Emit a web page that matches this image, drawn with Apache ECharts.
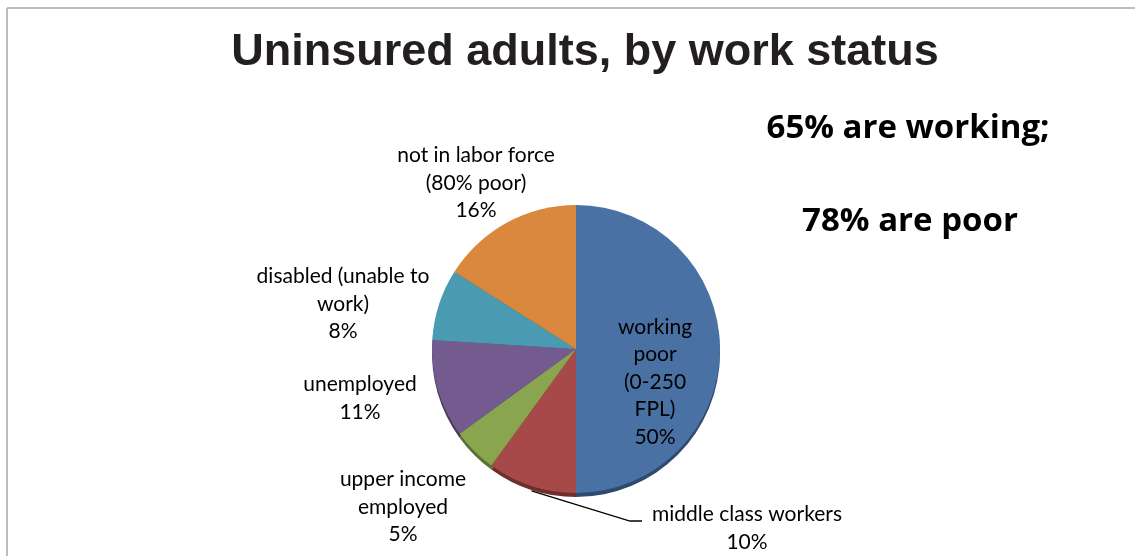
<!DOCTYPE html>
<html>
<head>
<meta charset="utf-8">
<title>Uninsured adults, by work status</title>
<script src="https://cdn.jsdelivr.net/npm/echarts@6/dist/echarts.min.js"></script>
<style>
  html, body { margin: 0; padding: 0; background: #ffffff; }
  #chart { width: 1135px; height: 556px; }
</style>
</head>
<body>
<div id="chart"></div>
<script>
// Slice labels (as printed on the chart) and their shares, clockwise from 12 o'clock
const categories = [
  'working\npoor\n(0-250\nFPL)',
  'middle class workers',
  'upper income\nemployed',
  'unemployed',
  'disabled (unable to\nwork)',
  'not in labor force\n(80% poor)'
];
const shares = [50, 10, 5, 11, 8, 16];

// Headline notes
const chartTitle = 'Uninsured adults, by work status';
const notes = ['65% are working;', '78% are poor'];

// Slice fills and the darker rim beneath them
const sliceColors = ['#4A71A4', '#A64948', '#89A54E', '#735A8F', '#4A9BB1', '#D9883E'];
const rimColors   = ['#2E4A6E', '#6E2E2D', '#5B7033', '#4B3A5E', '#2F6676', '#8F5826'];

// Pie geometry
const pieCenter = [576, 349];
const pieRadius = 144;

// Where each label block sits (centre of the text block)
const labelCenters = [
  [655, 382],
  [747, 528],
  [403, 507],
  [360, 398],
  [343, 304],
  [476, 183]
];

const chart = echarts.init(document.getElementById('chart'), null, { renderer: 'canvas' });

const labelFont = 'Lato, "Open Sans", sans-serif';
const noteFont = '"Open Sans", Lato, sans-serif';

const pieData = categories.map((name, i) => ({
  name: name,
  value: shares[i],
  itemStyle: { color: sliceColors[i] },
  labelLine: { show: i === 1 }
}));

const rimData = categories.map((name, i) => ({
  name: name,
  value: shares[i],
  itemStyle: { color: rimColors[i] }
}));

chart.setOption({
  backgroundColor: '#ffffff',
  animation: false,
  title: [
    {
      text: chartTitle,
      left: 580, top: 48,
      textAlign: 'center', textVerticalAlign: 'middle',
      textStyle: { fontFamily: '"Liberation Sans", Arial, sans-serif', fontWeight: 'bold', fontSize: 45, color: '#231F20' }
    },
    {
      text: notes[0],
      left: 903, top: 124,
      textAlign: 'center', textVerticalAlign: 'middle',
      textStyle: { fontFamily: noteFont, fontWeight: 'bold', fontSize: 33, color: '#000000' }
    },
    {
      text: notes[1],
      left: 905, top: 217,
      textAlign: 'center', textVerticalAlign: 'middle',
      textStyle: { fontFamily: noteFont, fontWeight: 'bold', fontSize: 33, color: '#000000' }
    }
  ],
  graphic: [
    { type: 'line', shape: { x1: 7, y1: 8, x2: 1135, y2: 8 }, style: { stroke: '#BDBDBD', lineWidth: 2 }, silent: true },
    { type: 'line', shape: { x1: 7, y1: 8, x2: 7, y2: 556 }, style: { stroke: '#BDBDBD', lineWidth: 2 }, silent: true }
  ],
  series: [
    {
      // darker copy drawn slightly lower, giving the pie its bottom rim
      type: 'pie',
      z: 1,
      silent: true,
      center: [pieCenter[0], pieCenter[1] + 4],
      radius: pieRadius,
      startAngle: 90,
      clockwise: true,
      label: { show: false },
      labelLine: { show: false },
      data: rimData
    },
    {
      type: 'pie',
      z: 2,
      center: pieCenter,
      radius: pieRadius,
      startAngle: 90,
      clockwise: true,
      itemStyle: { borderWidth: 0 },
      label: {
        show: true,
        position: 'outside',
        formatter: p => p.name + '\n' + p.value + '%',
        fontFamily: labelFont,
        fontSize: 21,
        lineHeight: 27.5,
        color: '#000000',
        align: 'center'
      },
      labelLine: {
        show: false,
        lineStyle: { color: '#000000', width: 1.3 }
      },
      labelLayout: function (params) {
        const i = params.dataIndex;
        const c = labelCenters[i];
        const out = { x: c[0], y: c[1], align: 'center', verticalAlign: 'middle' };
        if (i === 1) {
          // leader from the slice's outer edge at its mid-angle to the left of the text
          let before = 0;
          for (let k = 0; k < i; k++) before += shares[k];
          const total = shares.reduce((a, b) => a + b, 0);
          const mid = (before + shares[i] / 2) / total * 2 * Math.PI;
          const sx = pieCenter[0] + pieRadius * Math.sin(mid);
          const sy = pieCenter[1] - pieRadius * Math.cos(mid) + 5;
          const ty = c[1] - 7;
          out.labelLinePoints = [[sx, sy], [630, ty], [642, ty]];
        }
        return out;
      },
      data: pieData
    }
  ]
});
</script>
</body>
</html>
